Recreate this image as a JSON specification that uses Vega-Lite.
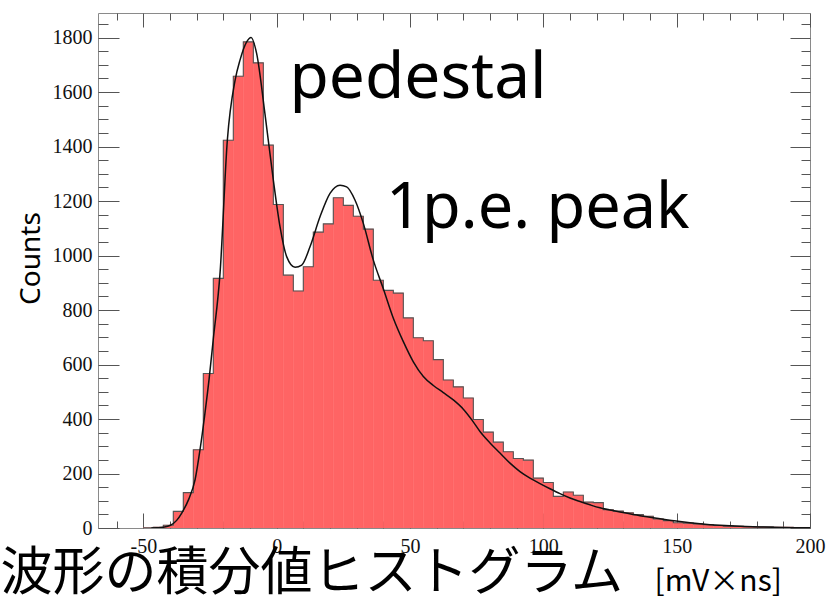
{
  "$schema": "https://vega.github.io/schema/vega-lite/v6.json",
  "width": 712,
  "height": 515,
  "autosize": "none",
  "padding": {"left": 98, "top": 13, "right": 21, "bottom": 70},
  "background": "white",
  "config": {"view": {"stroke": "#8a8a8a", "strokeWidth": 1}},
  "datasets": {
    "hist": [
      {"lo": -50, "hi": -46.25, "count": 1},
      {"lo": -46.25, "hi": -42.5, "count": 3},
      {"lo": -42.5, "hi": -38.75, "count": 10},
      {"lo": -38.75, "hi": -35, "count": 61},
      {"lo": -35, "hi": -31.25, "count": 130},
      {"lo": -31.25, "hi": -27.5, "count": 287},
      {"lo": -27.5, "hi": -23.75, "count": 567},
      {"lo": -23.75, "hi": -20, "count": 916},
      {"lo": -20, "hi": -16.25, "count": 1423},
      {"lo": -16.25, "hi": -12.5, "count": 1658},
      {"lo": -12.5, "hi": -8.75, "count": 1784},
      {"lo": -8.75, "hi": -5, "count": 1707},
      {"lo": -5, "hi": -1.25, "count": 1405},
      {"lo": -1.25, "hi": 2.5, "count": 1187},
      {"lo": 2.5, "hi": 6.25, "count": 928},
      {"lo": 6.25, "hi": 10, "count": 870},
      {"lo": 10, "hi": 13.75, "count": 959},
      {"lo": 13.75, "hi": 17.5, "count": 1086},
      {"lo": 17.5, "hi": 21.25, "count": 1116},
      {"lo": 21.25, "hi": 25, "count": 1212},
      {"lo": 25, "hi": 28.75, "count": 1184},
      {"lo": 28.75, "hi": 32.5, "count": 1144},
      {"lo": 32.5, "hi": 36.25, "count": 1097},
      {"lo": 36.25, "hi": 40, "count": 909},
      {"lo": 40, "hi": 43.75, "count": 872},
      {"lo": 43.75, "hi": 47.5, "count": 862},
      {"lo": 47.5, "hi": 51.25, "count": 771},
      {"lo": 51.25, "hi": 55, "count": 698},
      {"lo": 55, "hi": 58.75, "count": 687},
      {"lo": 58.75, "hi": 62.5, "count": 618},
      {"lo": 62.5, "hi": 66.25, "count": 543},
      {"lo": 66.25, "hi": 70, "count": 518},
      {"lo": 70, "hi": 73.75, "count": 477},
      {"lo": 73.75, "hi": 77.5, "count": 398},
      {"lo": 77.5, "hi": 81.25, "count": 352},
      {"lo": 81.25, "hi": 85, "count": 315},
      {"lo": 85, "hi": 88.75, "count": 280},
      {"lo": 88.75, "hi": 92.5, "count": 255},
      {"lo": 92.5, "hi": 96.25, "count": 249},
      {"lo": 96.25, "hi": 100, "count": 183},
      {"lo": 100, "hi": 103.75, "count": 167},
      {"lo": 103.75, "hi": 107.5, "count": 116},
      {"lo": 107.5, "hi": 111.25, "count": 132},
      {"lo": 111.25, "hi": 115, "count": 120},
      {"lo": 115, "hi": 118.75, "count": 95},
      {"lo": 118.75, "hi": 122.5, "count": 93},
      {"lo": 122.5, "hi": 126.25, "count": 67},
      {"lo": 126.25, "hi": 130, "count": 62},
      {"lo": 130, "hi": 133.75, "count": 56},
      {"lo": 133.75, "hi": 137.5, "count": 49},
      {"lo": 137.5, "hi": 141.25, "count": 43},
      {"lo": 141.25, "hi": 145, "count": 33},
      {"lo": 145, "hi": 148.75, "count": 27},
      {"lo": 148.75, "hi": 152.5, "count": 19},
      {"lo": 152.5, "hi": 156.25, "count": 18},
      {"lo": 156.25, "hi": 160, "count": 15},
      {"lo": 160, "hi": 163.75, "count": 12},
      {"lo": 163.75, "hi": 167.5, "count": 9},
      {"lo": 167.5, "hi": 171.25, "count": 7},
      {"lo": 171.25, "hi": 175, "count": 6},
      {"lo": 175, "hi": 178.75, "count": 5},
      {"lo": 178.75, "hi": 182.5, "count": 4},
      {"lo": 182.5, "hi": 186.25, "count": 4},
      {"lo": 186.25, "hi": 190, "count": 3},
      {"lo": 190, "hi": 193.75, "count": 3},
      {"lo": 193.75, "hi": 197.5, "count": 2},
      {"lo": 197.5, "hi": 201.25, "count": 2}
    ],
    "fit": [
      {"x": -47, "y": 0},
      {"x": -45, "y": 1},
      {"x": -42.5, "y": 3},
      {"x": -40, "y": 9},
      {"x": -37.5, "y": 28},
      {"x": -35.6, "y": 55},
      {"x": -33, "y": 105},
      {"x": -30.6, "y": 177},
      {"x": -28.7, "y": 290},
      {"x": -26.9, "y": 421},
      {"x": -25.3, "y": 550},
      {"x": -23.8, "y": 690},
      {"x": -21.2, "y": 940},
      {"x": -18.5, "y": 1423},
      {"x": -15.6, "y": 1643},
      {"x": -13.75, "y": 1717},
      {"x": -11.25, "y": 1784},
      {"x": -9.6, "y": 1800},
      {"x": -7.5, "y": 1741},
      {"x": -4.4, "y": 1521},
      {"x": -1.25, "y": 1277},
      {"x": 1.25, "y": 1106},
      {"x": 3.75, "y": 996},
      {"x": 6.9, "y": 957},
      {"x": 9.4, "y": 965},
      {"x": 12.5, "y": 1032},
      {"x": 16.25, "y": 1142},
      {"x": 20, "y": 1228},
      {"x": 23.75, "y": 1258},
      {"x": 26.25, "y": 1252},
      {"x": 29.4, "y": 1203},
      {"x": 32.5, "y": 1118},
      {"x": 36.25, "y": 983},
      {"x": 40, "y": 878},
      {"x": 43.75, "y": 770},
      {"x": 47.5, "y": 684},
      {"x": 51.25, "y": 610},
      {"x": 55, "y": 556},
      {"x": 58.75, "y": 523},
      {"x": 62.5, "y": 497},
      {"x": 66.25, "y": 470},
      {"x": 70, "y": 436},
      {"x": 73.25, "y": 396},
      {"x": 76.25, "y": 354},
      {"x": 80, "y": 312},
      {"x": 83.75, "y": 275},
      {"x": 87.5, "y": 238},
      {"x": 91.25, "y": 207},
      {"x": 95, "y": 183},
      {"x": 98.75, "y": 163},
      {"x": 102.5, "y": 144},
      {"x": 106.25, "y": 126},
      {"x": 110, "y": 110},
      {"x": 113.75, "y": 97},
      {"x": 117.5, "y": 85},
      {"x": 121.25, "y": 74},
      {"x": 128.75, "y": 59},
      {"x": 136.25, "y": 45},
      {"x": 143.75, "y": 34},
      {"x": 151.25, "y": 24},
      {"x": 158.75, "y": 16},
      {"x": 166.25, "y": 10},
      {"x": 173.75, "y": 6},
      {"x": 181.25, "y": 4},
      {"x": 188.75, "y": 2},
      {"x": 196.25, "y": 1},
      {"x": 200, "y": 1}
    ]
  },
  "resolve": {"axis": {"x": "independent", "y": "independent"}},
  "layer": [
    {
      "data": {"name": "hist"},
      "mark": {"type": "rect", "color": "#ff6464", "stroke": "#ff6464", "strokeWidth": 0.5, "clip": true},
      "encoding": {
        "x": {
          "field": "lo", "type": "quantitative",
          "scale": {"domain": [-67, 200], "nice": false, "zero": false},
          "axis": {
            "orient": "bottom",
            "values": [-60,-50,-40,-30,-20,-10,0,10,20,30,40,50,60,70,80,90,100,110,120,130,140,150,160,170,180,190,200],
            "labelExpr": "datum.value % 50 === 0 ? '' + datum.value : ''",
            "tickSize": {"condition": {"test": "datum.value % 50 === 0", "value": -15}, "value": -7},
            "tickColor": "#555", "tickWidth": 1,
            "labelPadding": 23, "labelFont": "Liberation Serif", "labelFontSize": 20, "labelColor": "#111",
            "labelOverlap": false, "labelFlush": false,
            "domain": false, "grid": false,
            "title": "波形の積分値ヒストグラム",
            "titleFont": "Noto Sans CJK JP", "titleFontSize": 52, "titleFontWeight": "normal", "titleColor": "#000",
            "titleAlign": "left", "titleBaseline": "alphabetic", "titleX": -98, "titleY": 61
          }
        },
        "x2": {"field": "hi"},
        "y": {
          "field": "count", "type": "quantitative",
          "scale": {"domain": [0, 1890], "nice": false},
          "axis": {
            "orient": "left",
            "values": [0,50,100,150,200,250,300,350,400,450,500,550,600,650,700,750,800,850,900,950,1000,1050,1100,1150,1200,1250,1300,1350,1400,1450,1500,1550,1600,1650,1700,1750,1800,1850],
            "labelExpr": "datum.value % 200 === 0 ? '' + datum.value : ''",
            "tickSize": {"condition": {"test": "datum.value % 200 === 0", "value": -21}, "value": -10},
            "tickColor": "#555", "tickWidth": 1,
            "labelPadding": 27, "labelFont": "Liberation Serif", "labelFontSize": 20, "labelColor": "#111",
            "labelOverlap": false, "labelFlush": false,
            "domain": false, "grid": false,
            "title": "Counts",
            "titleFont": "Noto Sans", "titleFontSize": 28, "titleFontWeight": "normal", "titleColor": "#000",
            "titleAngle": -90, "titleAlign": "center", "titleBaseline": "alphabetic", "titleX": -59, "titleY": 245
          }
        },
        "y2": {"datum": 0}
      }
    },
    {
      "data": {"name": "hist"},
      "mark": {"type": "line", "interpolate": "step-after", "color": "#555555", "strokeWidth": 1.1, "clip": true},
      "encoding": {
        "x": {
          "field": "lo", "type": "quantitative",
          "scale": {"domain": [-67, 200], "nice": false, "zero": false},
          "axis": {
            "orient": "top",
            "values": [-60,-50,-40,-30,-20,-10,0,10,20,30,40,50,60,70,80,90,100,110,120,130,140,150,160,170,180,190,200],
            "labels": false,
            "tickSize": {"condition": {"test": "datum.value % 50 === 0", "value": -14}, "value": -7},
            "tickColor": "#555", "tickWidth": 1,
            "domain": false, "grid": false,
            "title": "[mV×ns]",
            "titleFont": "Noto Sans CJK JP", "titleFontSize": 30, "titleFontWeight": "normal", "titleColor": "#000",
            "titleAlign": "left", "titleBaseline": "alphabetic", "titleX": 556, "titleY": 577
          }
        },
        "y": {
          "field": "count", "type": "quantitative",
          "scale": {"domain": [0, 1890], "nice": false},
          "axis": {
            "orient": "right",
            "values": [0,50,100,150,200,250,300,350,400,450,500,550,600,650,700,750,800,850,900,950,1000,1050,1100,1150,1200,1250,1300,1350,1400,1450,1500,1550,1600,1650,1700,1750,1800,1850],
            "labels": false,
            "tickSize": {"condition": {"test": "datum.value % 200 === 0", "value": -20}, "value": -9},
            "tickColor": "#555", "tickWidth": 1,
            "domain": false, "grid": false, "title": null
          }
        }
      }
    },
    {
      "data": {"name": "fit"},
      "mark": {"type": "line", "color": "#111", "strokeWidth": 1.5, "clip": true, "interpolate": "monotone"},
      "encoding": {
        "x": {"field": "x", "type": "quantitative", "axis": null},
        "y": {"field": "y", "type": "quantitative", "axis": null}
      }
    },
    {
      "data": {"values": [{}]},
      "mark": {"type": "text", "text": "pedestal", "align": "left", "baseline": "alphabetic", "font": "Noto Sans", "fontSize": 64, "color": "#000"},
      "encoding": {
        "x": {"datum": 4.8, "type": "quantitative", "axis": null},
        "y": {"datum": 1577, "type": "quantitative", "axis": null}
      }
    },
    {
      "data": {"values": [{}]},
      "mark": {"type": "text", "text": "1p.e. peak", "align": "left", "baseline": "alphabetic", "font": "Noto Sans", "fontSize": 63, "color": "#000"},
      "encoding": {
        "x": {"datum": 41, "type": "quantitative", "axis": null},
        "y": {"datum": 1101, "type": "quantitative", "axis": null}
      }
    }
  ]
}
